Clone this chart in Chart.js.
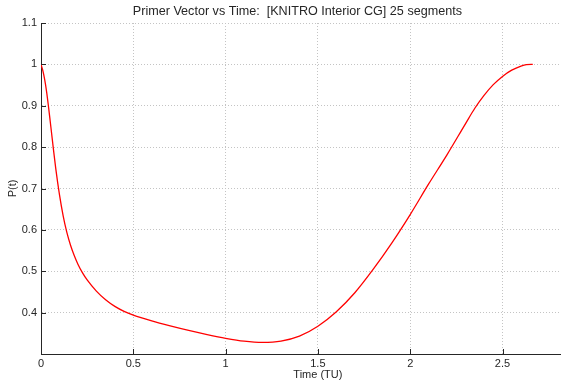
<!DOCTYPE html>
<html>
<head>
<meta charset="utf-8">
<script src="https://cdn.jsdelivr.net/npm/chart.js@4/dist/chart.umd.min.js"></script>
<style>
  html, body { margin: 0; padding: 0; background: #fff; overflow: hidden; width: 561px; height: 386px; }
  canvas { display: block; }
</style>
</head>
<body>
<canvas id="c" width="636" height="386"></canvas>
<script>
// ---- data ----
const times = [0, 0.01, 0.02, 0.03, 0.04, 0.05, 0.066, 0.08, 0.1, 0.12, 0.14, 0.16, 0.18, 0.2, 0.225,
  0.25, 0.3, 0.35, 0.4, 0.45, 0.5, 0.6, 0.7, 0.8, 0.9, 1.0, 1.1, 1.2, 1.3, 1.4, 1.5, 1.6, 1.7, 1.8,
  1.9, 2.0, 2.1, 2.2, 2.3, 2.35, 2.4, 2.45, 2.5, 2.55, 2.6, 2.63, 2.664];
const primerValues = [1.0, 0.985, 0.963, 0.935, 0.9, 0.862, 0.8, 0.748, 0.685, 0.634, 0.594, 0.563, 0.538, 0.517, 0.496,
  0.479, 0.452, 0.431, 0.415, 0.403, 0.394, 0.380, 0.368, 0.357, 0.347, 0.338, 0.331, 0.328, 0.331, 0.343, 0.367, 0.402, 0.448, 0.505,
  0.568, 0.637, 0.711, 0.782, 0.857, 0.894, 0.925, 0.951, 0.971, 0.986, 0.996, 0.9995, 1.0];
const xTicks = [0, 0.5, 1, 1.5, 2, 2.5, 3];
const yTicks = [0.3, 0.4, 0.5, 0.6, 0.7, 0.8, 0.9, 1, 1.1];
const titleText = 'Primer Vector vs Time:  [KNITRO Interior CG] 25 segments';
const xLabel = 'Time (TU)';
const yLabel = 'P(t)';

const points = times.map((t, i) => ({ x: t, y: primerValues[i] }));
const FONT = 'Liberation Sans, Arial, Helvetica, sans-serif';
const TEXT = '#262626';

function fmt(v) { return String(Number(v.toFixed(2))); }

// inward tick marks (MATLAB style)
const inwardTicks = {
  id: 'inwardTicks',
  afterDraw(chart) {
    const ctx = chart.ctx, xs = chart.scales.x, ys = chart.scales.y, a = chart.chartArea;
    ctx.save();
    ctx.strokeStyle = '#262626';
    ctx.lineWidth = 1;
    ctx.beginPath();
    xTicks.forEach(v => {
      const px = Math.round(xs.getPixelForValue(v)) + 0.5;
      ctx.moveTo(px, a.bottom); ctx.lineTo(px, a.bottom - 5);
    });
    yTicks.forEach(v => {
      const py = Math.round(ys.getPixelForValue(v)) + 0.5;
      ctx.moveTo(a.left, py); ctx.lineTo(a.left + 5, py);
    });
    ctx.stroke();
    ctx.restore();
  }
};

new Chart(document.getElementById('c'), {
  type: 'scatter',
  data: {
    datasets: [{
      data: points,
      showLine: true,
      borderColor: '#ff0000',
      borderWidth: 1.3,
      pointRadius: 0,
      cubicInterpolationMode: 'monotone',
      fill: false
    }]
  },
  options: {
    responsive: false,
    devicePixelRatio: 1,
    animation: false,
    layout: { padding: { left: 0, right: 41.2, top: 0, bottom: 0 } },
    plugins: {
      legend: { display: false },
      tooltip: { enabled: false },
      title: {
        display: true,
        text: titleText,
        color: TEXT,
        font: { family: FONT, size: 12.6, weight: 'normal', lineHeight: 1.2 },
        padding: { top: 3.6, bottom: 4.3 }
      }
    },
    scales: {
      x: {
        type: 'linear',
        min: 0, max: 3,
        afterFit(s) { s.height = 32; },
        afterBuildTicks(s) { s.ticks = xTicks.map(v => ({ value: v })); },
        ticks: {
          color: TEXT, padding: 3, maxRotation: 0,
          font: { family: FONT, size: 11 },
          callback: v => fmt(v)
        },
        grid: { color: '#c4c4c4', lineWidth: 1, drawTicks: false },
        border: { display: true, color: '#262626', width: 1, dash: [1, 2] },
        title: {
          display: true, text: xLabel, color: TEXT,
          font: { family: FONT, size: 11, lineHeight: 1.2 },
          padding: { top: 0, bottom: 4.4 }
        }
      },
      y: {
        type: 'linear',
        min: 0.3, max: 1.1,
        afterFit(s) { s.width = 41; },
        afterBuildTicks(s) { s.ticks = yTicks.map(v => ({ value: v })); },
        ticks: {
          color: TEXT, padding: 4,
          font: { family: FONT, size: 11 },
          callback: v => (Math.abs(v - 0.3) < 1e-6 ? '' : fmt(v))
        },
        grid: { color: '#c4c4c4', lineWidth: 1, drawTicks: false },
        border: { display: true, color: '#262626', width: 1, dash: [1, 2] },
        title: {
          display: true, text: yLabel, color: TEXT,
          font: { family: FONT, size: 11, lineHeight: 1.2 },
          padding: { top: 6, bottom: 0 }
        }
      }
    }
  },
  plugins: [inwardTicks]
});
</script>
</body>
</html>
